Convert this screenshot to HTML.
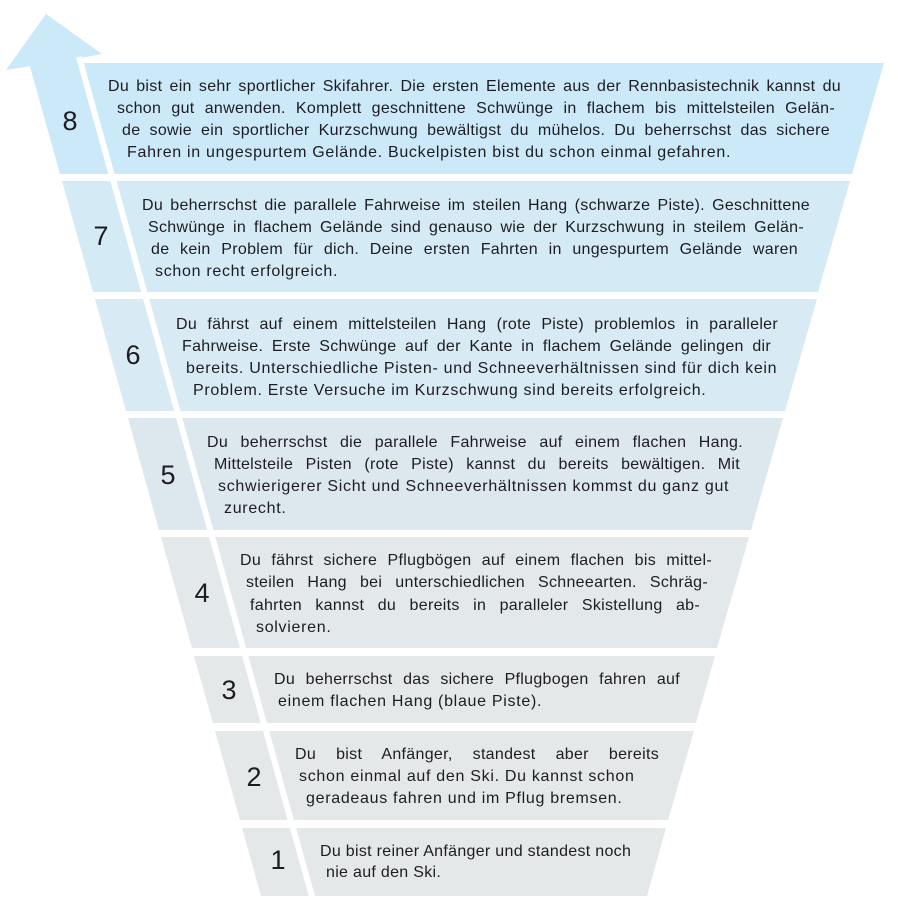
<!DOCTYPE html>
<html><head><meta charset="utf-8"><style>
body{margin:0;background:#fff;width:898px;height:902px;overflow:hidden;position:relative;font-family:"Liberation Sans",sans-serif;color:#1c1c22}
svg{position:absolute;left:0;top:0}
.l{position:absolute;font-size:16px;letter-spacing:0.7px;line-height:18px;white-space:nowrap}
.j{text-align:justify;text-align-last:justify;white-space:normal;height:18px;overflow:visible;letter-spacing:0.3px}
.s{letter-spacing:0.3px}
.n{position:absolute;font-size:27px;line-height:30px;width:30px;text-align:center;margin-left:-15px;margin-top:-15px}
</style></head><body>
<svg width="898" height="902">
<polygon points="6,70 46,14 102,54 80,58 82,66 31,66" fill="#cbe9f8"/>
<polygon points="29,63 884,63 852,174 60,174" fill="#cbe9f8"/>
<polygon points="62,181 850,181 818,292 93,292" fill="#d4eaf5"/>
<polygon points="95,299 817,299 785,411 126,411" fill="#d8eaf3"/>
<polygon points="128,418 783,418 751,530 159,530" fill="#dde8ee"/>
<polygon points="161,537 749,537 717,648 192,648" fill="#e3e8eb"/>
<polygon points="194,656 715,656 696,723 213,723" fill="#e5e8e9"/>
<polygon points="215,731 694,731 668,820 240,820" fill="#e5e8e9"/>
<polygon points="242,828 666,828 647,896 261,896" fill="#e5e8e9"/>
<line x1="79" y1="57" x2="313" y2="900" stroke="#fff" stroke-width="6"/>
</svg>
<div class="n" style="left:70px;top:121px">8</div>
<div class="n" style="left:101px;top:236px">7</div>
<div class="n" style="left:133px;top:355px">6</div>
<div class="n" style="left:168px;top:475px">5</div>
<div class="n" style="left:202px;top:593px">4</div>
<div class="n" style="left:229px;top:690px">3</div>
<div class="n" style="left:254px;top:777px">2</div>
<div class="n" style="left:278px;top:860px">1</div>

<div class="l j" style="left:108px;top:78px;width:733px">Du bist ein sehr sportlicher Skifahrer. Die ersten Elemente aus der Rennbasistechnik kannst du</div>
<div class="l j" style="left:117px;top:100px;width:718px">schon gut anwenden. Komplett geschnittene Schwünge in flachem bis mittelsteilen Gelän-</div>
<div class="l j" style="left:122px;top:122px;width:708px">de sowie ein sportlicher Kurzschwung bewältigst du mühelos. Du beherrschst das sichere</div>
<div class="l" style="left:127px;top:144px">Fahren in ungespurtem Gelände. Buckelpisten bist du schon einmal gefahren.</div>

<div class="l j" style="left:142px;top:197px;width:668px">Du beherrschst die parallele Fahrweise im steilen Hang (schwarze Piste). Geschnittene</div>
<div class="l j" style="left:148px;top:219px;width:656px">Schwünge in flachem Gelände sind genauso wie der Kurzschwung in steilem Gelän-</div>
<div class="l j" style="left:151px;top:241px;width:647px">de kein Problem für dich. Deine ersten Fahrten in ungespurtem Gelände waren</div>
<div class="l" style="left:155px;top:263px">schon recht erfolgreich.</div>

<div class="l j" style="left:176px;top:316px;width:602px">Du fährst auf einem mittelsteilen Hang (rote Piste) problemlos in paralleler</div>
<div class="l j" style="left:182px;top:338px;width:589px">Fahrweise. Erste Schwünge auf der Kante in flachem Gelände gelingen dir</div>
<div class="l" style="left:186px;top:360px">bereits. Unterschiedliche Pisten- und Schneeverhältnissen sind für dich kein</div>
<div class="l" style="left:193px;top:382px">Problem. Erste Versuche im Kurzschwung sind bereits erfolgreich.</div>

<div class="l j" style="left:207px;top:434px;width:536px">Du beherrschst die parallele Fahrweise auf einem flachen Hang.</div>
<div class="l j" style="left:214px;top:456px;width:526px">Mittelsteile Pisten (rote Piste) kannst du bereits bewältigen. Mit</div>
<div class="l" style="left:218px;top:478px">schwierigerer Sicht und Schneeverhältnissen kommst du ganz gut</div>
<div class="l" style="left:224px;top:500px">zurecht.</div>

<div class="l j" style="left:240px;top:552px;width:472px">Du fährst sichere Pflugbögen auf einem flachen bis mittel-</div>
<div class="l j" style="left:246px;top:574px;width:462px">steilen Hang bei unterschiedlichen Schneearten. Schräg-</div>
<div class="l j" style="left:250px;top:597px;width:450px">fahrten kannst du bereits in paralleler Skistellung ab-</div>
<div class="l" style="left:256px;top:619px">solvieren.</div>

<div class="l j" style="left:274px;top:671px;width:406px">Du beherrschst das sichere Pflugbogen fahren auf</div>
<div class="l" style="left:278px;top:693px">einem flachen Hang (blaue Piste).</div>

<div class="l j" style="left:295px;top:746px;width:364px">Du bist Anfänger, standest aber bereits</div>
<div class="l" style="left:299px;top:768px">schon einmal auf den Ski. Du kannst schon</div>
<div class="l" style="left:306px;top:790px">geradeaus fahren und im Pflug bremsen.</div>

<div class="l s" style="left:320px;top:843px">Du bist reiner Anfänger und standest noch</div>
<div class="l s" style="left:326px;top:864px">nie auf den Ski.</div>
</body></html>
